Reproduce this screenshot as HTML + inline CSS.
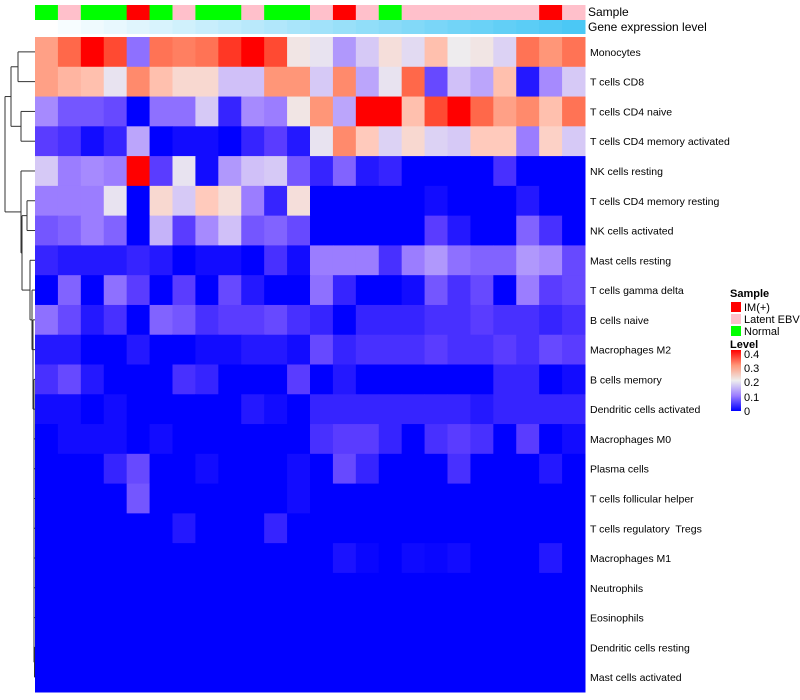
<!DOCTYPE html>
<html><head><meta charset="utf-8"><style>
html,body{margin:0;padding:0;background:#fff;width:800px;height:700px;overflow:hidden}
svg{display:block;font-family:"Liberation Sans",sans-serif}
#labels text{white-space:pre}
</style></head><body>
<svg id="chart" width="800" height="700" viewBox="0 0 800 700" xmlns="http://www.w3.org/2000/svg">
<g id="dendro" stroke="#333" stroke-width="1" fill="none"></g>
<g id="anno"></g>
<g id="cells"></g>
<g id="labels" font-size="10.5" fill="#000"></g>
<text x="588" y="16" font-size="12">Sample</text>
<text x="588" y="31" font-size="12">Gene expression level</text>
<g font-size="11">
<text x="730" y="297" font-weight="bold">Sample</text>
<rect x="731" y="302" width="10" height="10" fill="#ff0000"/>
<text x="744" y="311">IM(+)</text>
<rect x="731" y="314" width="10" height="10" fill="#ffc0cb"/>
<text x="744" y="323">Latent EBV</text>
<rect x="731" y="326" width="10" height="10" fill="#00ff00"/>
<text x="744" y="335">Normal</text>
</g>
<g font-size="11">
<defs><linearGradient id="lg" x1="0" y1="1" x2="0" y2="0">
<stop offset="0" stop-color="#0000ff"/><stop offset="0.25" stop-color="#9b7dff"/><stop offset="0.5" stop-color="#eeeeee"/><stop offset="0.75" stop-color="#ff9678"/><stop offset="1" stop-color="#ff0000"/></linearGradient></defs>
<text x="730" y="348" font-weight="bold">Level</text>
<rect x="731" y="350" width="10" height="61" fill="url(#lg)"/>
<text x="744" y="358">0.4</text>
<text x="744" y="372">0.3</text>
<text x="744" y="386">0.2</text>
<text x="744" y="401">0.1</text>
<text x="744" y="415">0</text>
</g>
</svg>
<script>
const rowNames=["Monocytes","T cells CD8","T cells CD4 naive","T cells CD4 memory activated","NK cells resting","T cells CD4 memory resting","NK cells activated","Mast cells resting","T cells gamma delta","B cells naive","Macrophages M2","B cells memory","Dendritic cells activated","Macrophages M0","Plasma cells","T cells follicular helper","T cells regulatory  Tregs","Macrophages M1","Neutrophils","Eosinophils","Dendritic cells resting","Mast cells activated"];
const sampleGroups=["N","L","N","N","I","N","L","N","N","L","N","N","L","I","L","N","L","L","L","L","L","L","I","L"];
const geneExpr=[0,1,2,3,4,5,6,7,8,9,10,11,12,13,14,15,16,17,18,19,20,21,22,23];
const Z=[0,0,0,0,0,0,0,0,0,0,0,0,0,0,0,0,0,0,0,0,0,0,0,0];
const values=[
[0.29,0.34,0.4,0.36,0.09,0.33,0.32,0.33,0.37,0.4,0.36,0.21,0.19,0.12,0.16,0.22,0.18,0.26,0.2,0.21,0.17,0.33,0.3,0.33],
[0.29,0.27,0.26,0.19,0.31,0.26,0.23,0.23,0.15,0.15,0.3,0.3,0.16,0.31,0.13,0.19,0.34,0.06,0.15,0.13,0.26,0.02,0.11,0.16],
[0.11,0.07,0.07,0.06,0,0.09,0.09,0.16,0.03,0.11,0.1,0.21,0.3,0.13,0.4,0.4,0.26,0.36,0.4,0.34,0.29,0.31,0.26,0.33],
[0.05,0.04,0.01,0.03,0.13,0,0.01,0.01,0,0.03,0.05,0.02,0.19,0.31,0.25,0.17,0.23,0.17,0.16,0.25,0.25,0.1,0.24,0.16],
[0.16,0.1,0.11,0.1,0.4,0.05,0.19,0.01,0.12,0.15,0.16,0.07,0.03,0.08,0.02,0.03,0,0,0,0,0.04,0,0,0],
[0.1,0.1,0.1,0.19,0,0.23,0.16,0.25,0.22,0.1,0.03,0.22,0,0,0,0,0,0.01,0,0,0,0.02,0,0],
[0.07,0.08,0.1,0.08,0,0.14,0.05,0.11,0.15,0.07,0.08,0.06,0,0,0,0,0,0.05,0.02,0,0,0.08,0.04,0],
[0.03,0.02,0.02,0.02,0.03,0.02,0,0.01,0.01,0,0.04,0.01,0.1,0.1,0.1,0.04,0.1,0.12,0.09,0.08,0.08,0.12,0.11,0.06],
[0,0.08,0,0.09,0.05,0,0.05,0,0.06,0.02,0,0,0.09,0.03,0,0,0.01,0.07,0.04,0.06,0,0.1,0.05,0.06],
[0.09,0.06,0.02,0.04,0,0.08,0.07,0.04,0.05,0.05,0.06,0.04,0.03,0,0.03,0.03,0.03,0.04,0.04,0.05,0.04,0.04,0.03,0.04],
[0.02,0.02,0,0,0.02,0,0,0.01,0.01,0.02,0.02,0.01,0.06,0.03,0.04,0.04,0.04,0.05,0.04,0.04,0.05,0.04,0.06,0.05],
[0.04,0.06,0.02,0,0,0,0.04,0.03,0,0,0,0.05,0,0.02,0,0,0,0,0,0,0.03,0.03,0,0.01],
[0.01,0.01,0,0.01,0,0,0,0,0,0.02,0.01,0,0.03,0.03,0.03,0.03,0.03,0.03,0.03,0.02,0.03,0.03,0.03,0.03],
[0,0.01,0.01,0.01,0,0.01,0,0,0,0,0,0,0.04,0.05,0.05,0.03,0,0.04,0.05,0.04,0,0.05,0,0.01],
[0,0,0,0.03,0.06,0,0,0.01,0,0,0,0.01,0,0.06,0.03,0,0,0,0.04,0,0,0,0.02,0],
[0,0,0,0,0.07,0,0,0,0,0,0,0.01,0,0,0,0,0,0,0,0,0,0,0,0],
[0,0,0,0,0,0,0.02,0,0,0,0.03,0,0,0,0,0,0,0,0,0,0,0,0,0],
[0,0,0,0,0,0,0,0,0,0,0,0,0,0.015,0.005,0,0.008,0.005,0.01,0,0,0,0.02,0],
Z,Z,Z,Z];
const NS="http://www.w3.org/2000/svg";
const X0=35,X1=585,Y0=37,Y1=692;
const nC=sampleGroups.length,nR=rowNames.length;
const cw=(X1-X0)/nC,rh=(Y1-Y0)/nR;
const xPos=i=>X0+i*cw, yPos=r=>Y0+r*rh, yMid=r=>Y0+(r+0.5)*rh;
const stops=[[0,[0,0,255]],[0.05,[90,60,255]],[0.1,[155,125,255]],[0.15,[208,192,248]],[0.2,[238,236,238]],[0.25,[255,202,188]],[0.3,[255,150,120]],[0.35,[255,92,62]],[0.4,[255,0,0]]];
function col(v){v=Math.max(0,Math.min(0.4,v));for(let i=1;i<stops.length;i++){if(v<=stops[i][0]){const a=stops[i-1],b=stops[i],t=(v-a[0])/(b[0]-a[0]);return"rgb("+a[1].map((c,k)=>Math.round(c+(b[1][k]-c)*t)).join(",")+")";}}return"rgb(255,0,0)";}
function mk(tag,at,parent){const e=document.createElementNS(NS,tag);for(const k in at)e.setAttribute(k,at[k]);parent.appendChild(e);return e;}
const gc=document.getElementById('cells');
values.forEach((row,r)=>row.forEach((v,c)=>{
 const e=mk('rect',{x:xPos(c),y:yPos(r),width:cw+0.5,height:rh+0.5,fill:col(v)},gc);
 
 
}));
const ga=document.getElementById('anno');
const sCol={N:"#00ff00",L:"#ffc0cb",I:"#ff0000"};
const gMax=Math.max(...geneExpr);
sampleGroups.forEach((s,c)=>{
 const e=mk('rect',{x:xPos(c),y:5,width:cw+0.5,height:15,fill:sCol[s]},ga);
 
 
 const t=geneExpr[c]/gMax;
 const g=mk('rect',{x:xPos(c),y:20,width:cw+0.5,height:14,fill:"rgb("+Math.round(255-t*180)+","+Math.round(255-t*55)+","+Math.round(255-t*10)+")"},ga);
 
 
});
const gl=document.getElementById('labels');
rowNames.forEach((n,r)=>{
 const t=mk('text',{x:590,y:yMid(r)+4},gl);t.textContent=n;
 
 
});
const gd=document.getElementById('dendro');
function line(x1,y1,x2,y2){const e=mk('line',{x1,y1,x2,y2},gd);}
function merge(a,b,h){line(a.h,a.y,h,a.y);line(b.h,b.y,h,b.y);line(h,a.y,h,b.y);return{h,y:(a.y+b.y)/2};}
const leaf=r=>({h:X0,y:yMid(r)});
const A=merge(leaf(0),leaf(1),18),B=merge(leaf(2),leaf(3),21),C=merge(A,B,11);
const hs=[0,0,0,0,0,0,0,30,32,33,33,34,34,34,34,34,34,34,34,34,34];
let node=merge(leaf(20),leaf(21),34.5);
for(let r=19;r>=7;r--)node=merge(leaf(r),node,hs[r]);
const D56=merge(leaf(5),leaf(6),27);
node=merge(D56,node,22);
node=merge(leaf(4),node,21);
merge(C,node,5);
</script>
</body></html>
